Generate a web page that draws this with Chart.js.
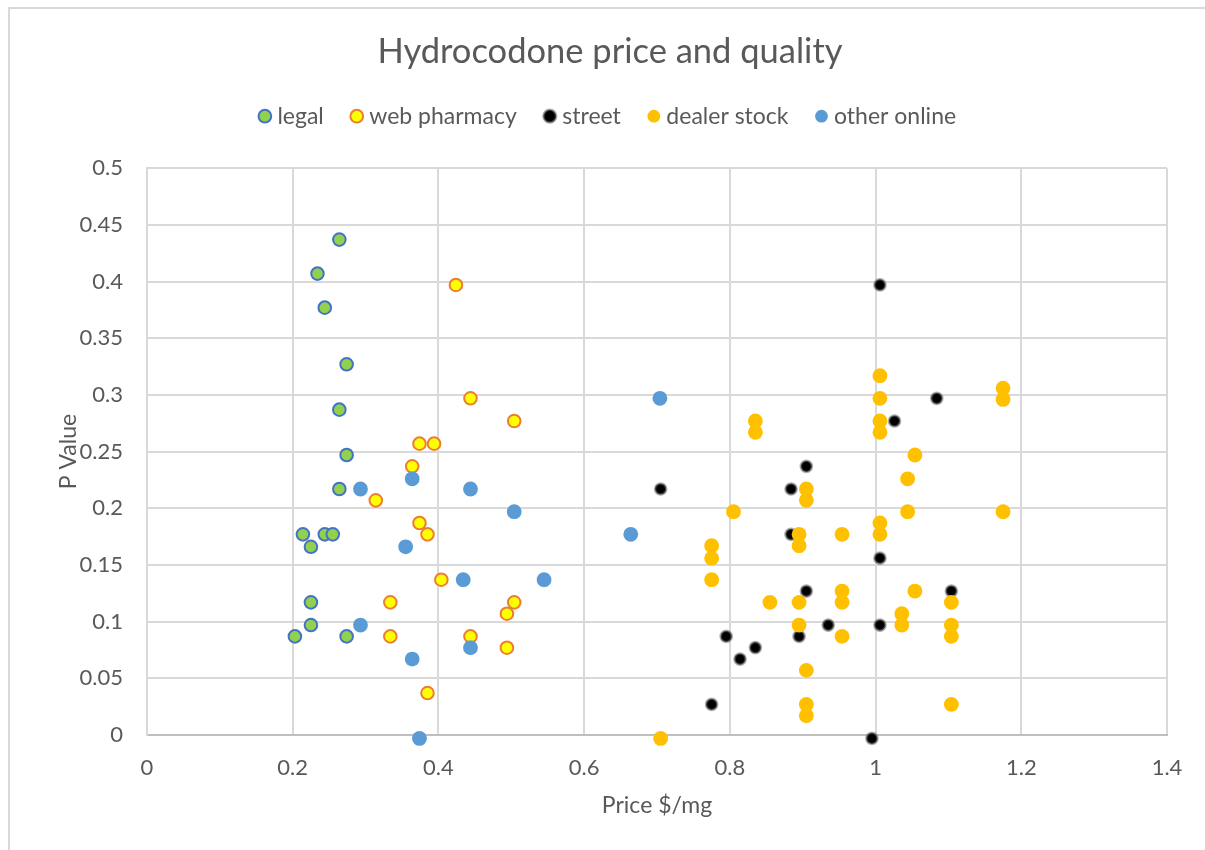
<!DOCTYPE html>
<html>
<head>
<meta charset="utf-8">
<script src="https://cdn.jsdelivr.net/npm/chart.js@4.4.1/dist/chart.umd.min.js"></script>
<style>
  html, body { margin: 0; padding: 0; background: #ffffff; overflow: hidden; }
  #frame { position: absolute; left: 8px; top: 7px; width: 3000px; height: 3000px; border: 2px solid #d9d9d9; box-sizing: border-box; z-index: 0; }
  #c { position: absolute; left: 0; top: 0; z-index: 1; }
</style>
</head>
<body>
<div id="frame"></div>
<canvas id="c" width="1205" height="850"></canvas>
<script>
// ---- data ----
const seriesNames = ['legal', 'web pharmacy', 'street', 'dealer stock', 'other online'];

const legalX = [0.264,0.234,0.244,0.274,0.264,0.274,0.264,0.214,0.244,0.255,0.225,0.225,0.225,0.203,0.274];
const legalY = [0.437,0.407,0.377,0.327,0.287,0.247,0.217,0.177,0.177,0.177,0.166,0.117,0.097,0.087,0.087];

const webX = [0.424,0.444,0.504,0.374,0.394,0.364,0.314,0.374,0.385,0.404,0.334,0.504,0.494,0.334,0.444,0.494,0.385];
const webY = [0.397,0.297,0.277,0.257,0.257,0.237,0.207,0.187,0.177,0.137,0.117,0.117,0.107,0.087,0.087,0.077,0.037];

const streetX = [1.006,1.084,1.026,0.905,0.705,0.884,0.884,1.006,0.905,0.935,1.006,0.795,0.895,0.835,0.814,0.775,0.995,1.104];
const streetY = [0.397,0.297,0.277,0.237,0.217,0.217,0.177,0.156,0.127,0.097,0.097,0.087,0.087,0.077,0.067,0.027,-0.003,0.127];

const dealerX = [1.006,1.006,1.006,1.006,0.835,0.835,1.054,1.044,1.175,1.175,0.905,0.905,0.805,1.044,1.006,1.006,0.895,0.895,0.954,0.775,0.775,0.775,0.954,0.954,0.855,0.895,1.054,1.036,1.036,0.895,0.954,0.905,0.905,0.905,0.705,1.175,1.104,1.104,1.104,1.104];
const dealerY = [0.317,0.297,0.277,0.267,0.277,0.267,0.247,0.226,0.306,0.296,0.217,0.207,0.197,0.197,0.187,0.177,0.177,0.167,0.177,0.167,0.156,0.137,0.127,0.117,0.117,0.117,0.127,0.107,0.097,0.097,0.087,0.057,0.027,0.017,-0.003,0.197,0.117,0.097,0.087,0.027];

const otherX = [0.364,0.293,0.355,0.293,0.364,0.374,0.704,0.444,0.504,0.664,0.434,0.545,0.444];
const otherY = [0.226,0.217,0.166,0.097,0.067,-0.003,0.297,0.217,0.197,0.177,0.137,0.137,0.077];

const xTickValues = [0, 0.2, 0.4, 0.6, 0.8, 1, 1.2, 1.4];
const yTickValues = [0, 0.05, 0.1, 0.15, 0.2, 0.25, 0.3, 0.35, 0.4, 0.45, 0.5];

const titleText = 'Hydrocodone price and quality';
const xTitle = 'Price $/mg';
const yTitle = 'P Value';

// ---- build ----
const pts = (xs, ys) => xs.map((x, i) => ({ x: x, y: ys[i] }));
const TEXT = '#595959';
const FONT = 'Lato, "Liberation Sans", sans-serif';

const datasets = [
  { label: seriesNames[0], data: pts(legalX, legalY), order: 4,
    pointBackgroundColor: '#92D050', pointBorderColor: '#4472C4', pointBorderWidth: 2, pointRadius: 6.3,
    backgroundColor: '#92D050', borderColor: '#4472C4', borderWidth: 2 },
  { label: seriesNames[1], data: pts(webX, webY), order: 3,
    pointBackgroundColor: '#FFFF00', pointBorderColor: '#ED7D31', pointBorderWidth: 2, pointRadius: 6.3,
    backgroundColor: '#FFFF00', borderColor: '#ED7D31', borderWidth: 2 },
  { label: seriesNames[2], data: pts(streetX, streetY), order: 2,
    pointBackgroundColor: '#000000', pointBorderColor: 'rgba(110,110,110,0.55)', pointBorderWidth: 2.5, pointRadius: 5.6,
    backgroundColor: '#000000', borderColor: 'rgba(110,110,110,0.55)', borderWidth: 2.5 },
  { label: seriesNames[3], data: pts(dealerX, dealerY), order: 1,
    pointBackgroundColor: '#FFC000', pointBorderColor: '#FFC000', pointBorderWidth: 0, pointRadius: 7.4,
    backgroundColor: '#FFC000', borderColor: '#FFC000', borderWidth: 0 },
  { label: seriesNames[4], data: pts(otherX, otherY), order: 0,
    pointBackgroundColor: '#5B9BD5', pointBorderColor: '#5B9BD5', pointBorderWidth: 0, pointRadius: 7.4,
    backgroundColor: '#5B9BD5', borderColor: '#5B9BD5', borderWidth: 0 }
];
datasets.forEach(d => { d.clip = false; d.pointHoverRadius = d.pointRadius; d.showLine = false; });

const legendHeightPlugin = {
  id: 'legendHeight',
  beforeLayout(chart) {
    const lg = chart.legend;
    if (lg && !lg._fixedH) {
      const origFit = lg.fit;
      lg.fit = function () { origFit.call(this); this.height = 95.5; };
      lg._fixedH = true;
    }
  }
};

new Chart(document.getElementById('c'), {
  type: 'scatter',
  data: { datasets: datasets },
  plugins: [legendHeightPlugin],
  options: {
    responsive: false,
    animation: false,
    events: [],
    layout: { padding: { left: 15, right: 0, top: 0, bottom: 0 } },
    plugins: {
      tooltip: { enabled: false },
      title: {
        display: true, text: titleText, color: TEXT,
        font: { family: FONT, size: 34.5, weight: 'normal' },
        padding: { top: 31.3, bottom: 0 }
      },
      legend: {
        display: true, position: 'top',
        labels: {
          color: TEXT, font: { family: FONT, size: 23 },
          usePointStyle: true, pointStyle: 'circle', boxWidth: 2, boxHeight: 9, padding: 32,
          sort: (a, b) => a.datasetIndex - b.datasetIndex
        }
      }
    },
    scales: {
      x: {
        type: 'linear', position: 'bottom', min: 0, max: 1.4,
        afterBuildTicks: s => { s.ticks = xTickValues.map(v => ({ value: v })); },
        afterFit: s => { s.height = 115; },
        grid: { color: '#d9d9d9', lineWidth: 2, drawTicks: false },
        border: { color: '#bfbfbf', width: 2 },
        ticks: { color: TEXT, font: { family: FONT, size: 22 }, padding: 20, maxRotation: 0,
                 callback: v => String(parseFloat(Number(v).toFixed(2))) },
        title: { display: true, text: xTitle, color: TEXT, font: { family: FONT, size: 23 }, padding: { top: 0, bottom: 31 } }
      },
      y: {
        type: 'linear', position: 'left', min: 0, max: 0.5,
        afterBuildTicks: s => { s.ticks = yTickValues.map(v => ({ value: v })); },
        afterFit: s => { s.width = 132; },
        grid: { color: '#d9d9d9', lineWidth: 2, drawTicks: false },
        border: { color: '#d9d9d9', width: 2 },
        ticks: { color: TEXT, font: { family: FONT, size: 22 }, padding: 24,
                 callback: v => String(parseFloat(Number(v).toFixed(2))) },
        title: { display: true, text: yTitle, color: TEXT, font: { family: FONT, size: 23 }, padding: { top: 40, bottom: 0 } }
      },
      spacer: {
        type: 'linear', position: 'right', display: true,
        afterFit: s => { s.width = 38; },
        grid: { display: false, drawTicks: false }, border: { display: false },
        ticks: { display: false }
      }
    }
  }
});
</script>
</body>
</html>
